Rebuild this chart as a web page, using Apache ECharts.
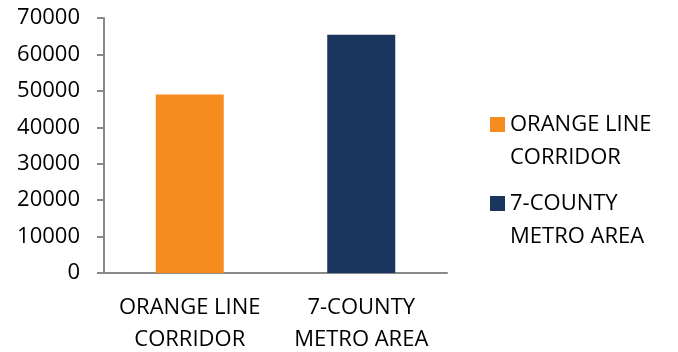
<!DOCTYPE html>
<html>
<head>
<meta charset="utf-8">
<script src="https://cdn.jsdelivr.net/npm/echarts@6/dist/echarts.min.js"></script>
<style>html,body{margin:0;padding:0;background:#fff}#c{width:678px;height:352px}</style>
</head>
<body>
<div id="c"></div>
<script>
var categories = ['ORANGE LINE\nCORRIDOR', '7-COUNTY\nMETRO AREA'];
var seriesNames = ['ORANGE LINE\nCORRIDOR', '7-COUNTY\nMETRO AREA'];
var values = [49000, 65400];
var colors = ['#F68B1F', '#1B365D'];
var yMin = 0, yMax = 70000, yInterval = 10000;

var FONT = 'Open Sans';
var series = seriesNames.map(function (name, i) {
  return {
    name: name,
    type: 'bar',
    barWidth: 68,
    barGap: '-100%',
    itemStyle: { color: colors[i] },
    data: values.map(function (v, j) { return j === i ? v : '-'; })
  };
});

var chart = echarts.init(document.getElementById('c'), null, { renderer: 'canvas' });
chart.setOption({
  animation: false,
  textStyle: { fontFamily: FONT },
  grid: { left: 104, right: 231, top: 18, bottom: 79, containLabel: false, outerBoundsMode: 'none' },
  legend: {
    orient: 'vertical',
    left: 490,
    top: 75,
    padding: 0,
    itemWidth: 15,
    itemHeight: 15,
    itemGap: -20,
    icon: 'rect',
    formatter: function (n) { return '\n' + n; },
    textStyle: { fontFamily: FONT, fontSize: 22, color: '#000', lineHeight: 33 },
    data: seriesNames
  },
  xAxis: {
    type: 'category',
    data: categories,
    axisLine: { lineStyle: { color: '#898989', width: 2 } },
    axisTick: { length: 9, lineStyle: { color: '#898989', width: 2 } },
    axisLabel: { interval: 0, fontFamily: FONT, fontSize: 22, color: '#000', lineHeight: 32, margin: 19 }
  },
  yAxis: {
    type: 'value',
    min: yMin, max: yMax, interval: yInterval,
    axisLine: { show: true, lineStyle: { color: '#898989', width: 2 } },
    axisTick: { show: true, length: 7, lineStyle: { color: '#898989', width: 2 } },
    splitLine: { show: false },
    axisLabel: { fontFamily: FONT, fontSize: 22, color: '#000', margin: 24, formatter: function (v) { return String(v); } }
  },
  series: series
});
</script>
</body>
</html>
